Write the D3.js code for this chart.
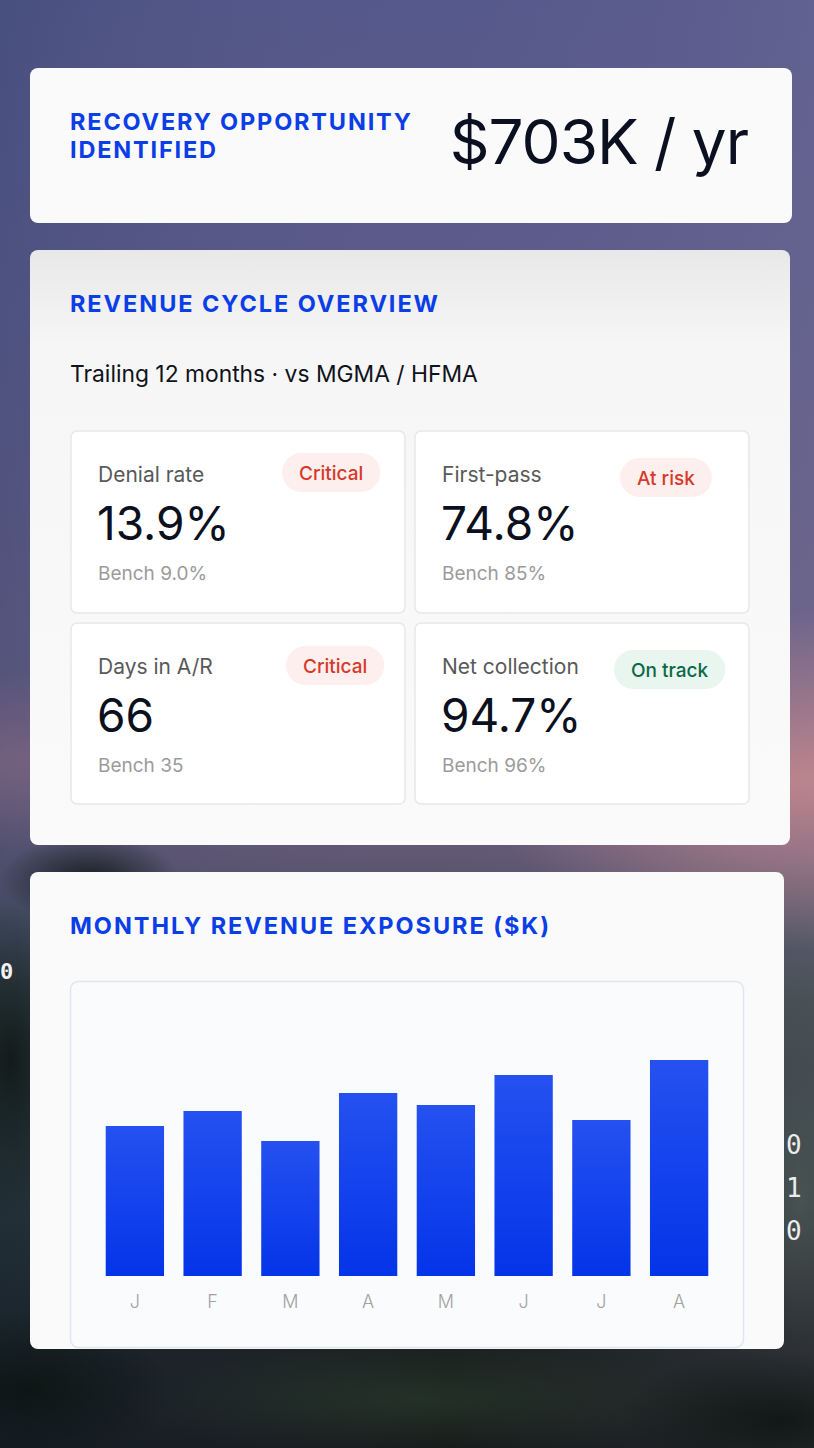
<!DOCTYPE html>
<html>
<head>
<meta charset="utf-8">
<script src="https://cdn.jsdelivr.net/npm/d3@7"></script>
<style>
  html, body { margin: 0; padding: 0; background: #0a100c; }
  svg { display: block; }
</style>
</head>
<body>
<svg id="root" width="814" height="1448"></svg>
<script>
// ---------------- DATA ----------------
const headlineLabel = ["RECOVERY OPPORTUNITY", "IDENTIFIED"];
const headlineValue = "$703K / yr";
const overviewTitle = "REVENUE CYCLE OVERVIEW";
const overviewSub = "Trailing 12 months · vs MGMA / HFMA";
const kpiNames = ["Denial rate", "First-pass", "Days in A/R", "Net collection"];
const kpiValues = ["13.9%", "74.8%", "66", "94.7%"];
const kpiBench = ["Bench 9.0%", "Bench 85%", "Bench 35", "Bench 96%"];
const kpiStatus = ["Critical", "At risk", "Critical", "On track"];
const chartTitle = "MONTHLY REVENUE EXPOSURE ($K)";
const months = ["J", "F", "M", "A", "M", "J", "J", "A"];
const exposure = [50, 55, 45, 61, 57, 67, 52, 72];
const yMax = 90;

// ---------------- STYLE / LAYOUT ----------------
const BLUE = "#0b3ee6";
const statusStyle = {
  "Critical": { bg: "#fdefed", fg: "#d6392a" },
  "At risk":  { bg: "#fdefed", fg: "#d6392a" },
  "On track": { bg: "#e8f6ef", fg: "#0d6848" }
};
const tileBoxes = [
  { x: 71,  y: 431, w: 334, h: 182, pillX: 282, pillY: 453 },
  { x: 415, y: 431, w: 334, h: 182, pillX: 620, pillY: 458 },
  { x: 71,  y: 623, w: 334, h: 181, pillX: 286, pillY: 646 },
  { x: 415, y: 623, w: 334, h: 181, pillX: 614, pillY: 650 }
];
const SANS = "Inter, 'DejaVu Sans', sans-serif";

const svg = d3.select("#root");
const defs = svg.append("defs");

// background gradients
const bgV = defs.append("linearGradient").attr("id", "bgV").attr("x1", 0).attr("y1", 0).attr("x2", 0).attr("y2", 1);
[["0%", "#52578a"], ["25%", "#5b5a88"], ["45%", "#635c83"], ["54%", "#6a5d7c"], ["59%", "#5e5670"],
 ["63%", "#4a4f5e"], ["69%", "#34423e"], ["80%", "#22302a"], ["90%", "#131c16"], ["100%", "#0a100c"]]
  .forEach(([o, c]) => bgV.append("stop").attr("offset", o).attr("stop-color", c));

const bgH = defs.append("linearGradient").attr("id", "bgH").attr("x1", 0).attr("y1", 0).attr("x2", 1).attr("y2", 0);
bgH.append("stop").attr("offset", "0%").attr("stop-color", "#30406a").attr("stop-opacity", 0.3);
bgH.append("stop").attr("offset", "55%").attr("stop-color", "#7a6a9c").attr("stop-opacity", 0.08);
bgH.append("stop").attr("offset", "100%").attr("stop-color", "#8a80a2").attr("stop-opacity", 0.25);

function radial(id, color, op) {
  const g = defs.append("radialGradient").attr("id", id);
  g.append("stop").attr("offset", "0%").attr("stop-color", color).attr("stop-opacity", op);
  g.append("stop").attr("offset", "100%").attr("stop-color", color).attr("stop-opacity", 0);
}
radial("glow", "#c98a8e", 0.85);
radial("glow2", "#8a6a84", 0.55);
radial("dark", "#0b130f", 0.8);
radial("lite", "#5b6a64", 0.45);
radial("green", "#2c3f30", 0.6);

svg.append("rect").attr("width", 814).attr("height", 1448).attr("fill", "url(#bgV)");
svg.append("rect").attr("width", 814).attr("height", 1448).attr("fill", "url(#bgH)");
svg.append("ellipse").attr("cx", 810).attr("cy", 780).attr("rx", 330).attr("ry", 170).attr("fill", "url(#glow)");
svg.append("ellipse").attr("cx", 20).attr("cy", 760).attr("rx", 200).attr("ry", 90).attr("fill", "url(#glow2)");
// soft foliage shading
[[90, 880, 90, 45, "dark"], [10, 1060, 70, 160, "dark"], [800, 1200, 60, 140, "lite"],
 [420, 1400, 300, 60, "green"], [30, 1390, 140, 80, "dark"], [780, 1420, 160, 70, "dark"]]
  .forEach(([cx, cy, rx, ry, id]) => svg.append("ellipse").attr("cx", cx).attr("cy", cy)
    .attr("rx", rx).attr("ry", ry).attr("fill", `url(#${id})`));

// binary decorations
const mono = "'DejaVu Sans Mono', 'Liberation Mono', monospace";
svg.append("text").attr("x", 0).attr("y", 979).attr("font-family", mono).attr("font-size", 22)
  .attr("fill", "#f2f2f2").attr("font-weight", 700).text("0");
["0", "1", "0"].forEach((d, i) => {
  svg.append("text").attr("x", 786).attr("y", 1154 + i * 43).attr("font-family", mono)
    .attr("font-size", 26).attr("fill", "#ececec").text(d);
});

// helpers to fit text to target width
function fitSpacing(sel, target) {
  const n = sel.text().length;
  const w = sel.node().getComputedTextLength();
  sel.attr("letter-spacing", (target - w) / Math.max(1, n - 1));
}
function fitSize(sel, target) {
  const fs = parseFloat(sel.attr("font-size"));
  const w = sel.node().getComputedTextLength();
  sel.attr("font-size", fs * target / w);
}

// ---------------- CARD 1 ----------------
svg.append("rect").attr("x", 30).attr("y", 68).attr("width", 762).attr("height", 155).attr("rx", 8).attr("fill", "#fafafa");
headlineLabel.forEach((t, i) => {
  const s = svg.append("text").attr("x", 70).attr("y", 130 + i * 27.5)
    .attr("font-family", SANS).attr("font-weight", 700).attr("font-size", 23.5)
    .attr("fill", BLUE).text(t);
  fitSpacing(s, i === 0 ? 341 : 146);
});
svg.append("text").attr("x", 748).attr("y", 164).attr("text-anchor", "end")
  .attr("font-family", SANS).attr("font-weight", 400).attr("font-size", 62)
  .attr("fill", "#0b1020").attr("letter-spacing", -1).text(headlineValue);

// ---------------- CARD 2 ----------------
const c2g = defs.append("linearGradient").attr("id", "c2g").attr("x1", 0).attr("y1", 0).attr("x2", 0).attr("y2", 1);
c2g.append("stop").attr("offset", "0%").attr("stop-color", "#e8e8e8");
c2g.append("stop").attr("offset", "16%").attr("stop-color", "#f6f6f6");
c2g.append("stop").attr("offset", "100%").attr("stop-color", "#fafafa");
svg.append("rect").attr("x", 30).attr("y", 250).attr("width", 760).attr("height", 595).attr("rx", 8).attr("fill", "url(#c2g)");

const ot = svg.append("text").attr("x", 70).attr("y", 312).attr("font-family", SANS)
  .attr("font-weight", 700).attr("font-size", 23.5).attr("fill", BLUE).text(overviewTitle);
fitSpacing(ot, 368);
const os = svg.append("text").attr("x", 70).attr("y", 382).attr("font-family", SANS)
  .attr("font-weight", 400).attr("font-size", 22).attr("fill", "#10131c").text(overviewSub);
fitSize(os, 408);

const tiles = svg.append("g").selectAll("g").data(kpiNames.map((n, i) => ({
  name: n, value: kpiValues[i], bench: kpiBench[i], status: kpiStatus[i], box: tileBoxes[i]
}))).join("g");

tiles.append("rect")
  .attr("x", d => d.box.x).attr("y", d => d.box.y).attr("width", d => d.box.w).attr("height", d => d.box.h)
  .attr("rx", 6).attr("fill", "#ffffff").attr("stroke", "#e8e8e8").attr("stroke-width", 1.5);

tiles.append("text").attr("x", d => d.box.x + 27).attr("y", d => d.box.y + 51)
  .attr("font-family", SANS).attr("font-size", 21).attr("fill", "#595959").text(d => d.name);
tiles.append("text").attr("x", d => d.box.x + 26).attr("y", d => d.box.y + 109)
  .attr("font-family", SANS).attr("font-size", 46).attr("fill", "#0b1020").text(d => d.value);
tiles.append("text").attr("x", d => d.box.x + 27).attr("y", d => d.box.y + 149)
  .attr("font-family", SANS).attr("font-size", 19).attr("fill", "#9b9b9b").text(d => d.bench);

tiles.each(function (d) {
  const g = d3.select(this);
  const pill = g.append("rect").attr("y", d.box.pillY).attr("height", 39).attr("rx", 19.5)
    .attr("fill", statusStyle[d.status].bg);
  const t = g.append("text").attr("y", d.box.pillY + 26.5).attr("font-family", SANS)
    .attr("font-weight", 500).attr("font-size", 19).attr("fill", statusStyle[d.status].fg).text(d.status);
  const w = t.node().getComputedTextLength();
  pill.attr("x", d.box.pillX).attr("width", w + 34);
  t.attr("x", d.box.pillX + 17);
});

// ---------------- CARD 3 ----------------
svg.append("rect").attr("x", 30).attr("y", 872).attr("width", 754).attr("height", 477).attr("rx", 8).attr("fill", "#fafafa");
const ct = svg.append("text").attr("x", 70).attr("y", 934).attr("font-family", SANS)
  .attr("font-weight", 700).attr("font-size", 23.5).attr("fill", BLUE).text(chartTitle);
fitSpacing(ct, 479);

svg.append("rect").attr("x", 70.5).attr("y", 981.5).attr("width", 673).attr("height", 366).attr("rx", 8)
  .attr("fill", "#fafbfc").attr("stroke", "#e1e5ef").attr("stroke-width", 1.5);

const barG = defs.append("linearGradient").attr("id", "barG").attr("x1", 0).attr("y1", 0).attr("x2", 0).attr("y2", 1);
barG.append("stop").attr("offset", "0%").attr("stop-color", "#2551f0");
barG.append("stop").attr("offset", "100%").attr("stop-color", "#0434e9");

const x = d3.scaleBand().domain(d3.range(months.length)).range([96, 718]).paddingInner(0.25).paddingOuter(0.125);
const y = d3.scaleLinear().domain([0, yMax]).range([1276, 1006]);

svg.append("g").selectAll("rect").data(exposure).join("rect")
  .attr("x", (d, i) => x(i)).attr("width", x.bandwidth())
  .attr("y", d => y(d)).attr("height", d => y(0) - y(d))
  .attr("fill", "url(#barG)");

const axis = svg.append("g").attr("transform", `translate(0,${y(0)})`)
  .call(d3.axisBottom(x).tickSize(0).tickPadding(19).tickFormat(i => months[i]));
axis.select(".domain").remove();
axis.selectAll("text").attr("font-family", SANS).attr("font-size", 18).attr("font-weight", 300).attr("fill", "#a2a2a2");
</script>
</body>
</html>
